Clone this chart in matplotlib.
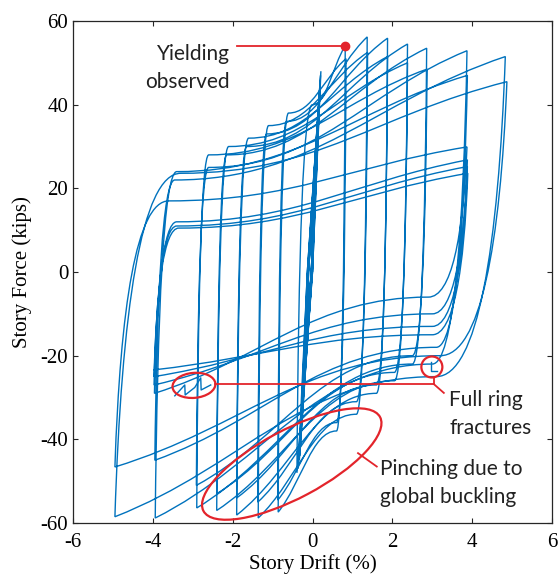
import matplotlib
matplotlib.use("Agg")
import matplotlib.pyplot as plt
from matplotlib.path import Path
from matplotlib.patches import PathPatch, Ellipse
from matplotlib.transforms import ScaledTranslation

# ---------------------------------------------------------------------
# Cyclic test record: story drift (%) and story force (kips)
# ---------------------------------------------------------------------
# small elastic cycles before yielding (peaks and zero-force crossings)
elastic_drift = [0.00, 0.05, -0.03, -0.12, -0.10, 0.06, -0.03, -0.13, -0.10, 0.10, -0.03,
                 -0.19, -0.10, 0.11, -0.03, -0.20, -0.11, 0.14, -0.02, -0.26, -0.11,
                 0.15, -0.02, -0.27, -0.12, 0.18, -0.01, -0.32, -0.12, 0.19, -0.01,
                 -0.33, -0.13, 0.20, 0.00, -0.36, -0.13, 0.21, 0.00, -0.39]
elastic_force = [0.0, 21.0, 0.0, -10.0, 0.0, 22.0, 0.0, -11.0, 0.0, 30.0, 0.0,
                 -22.0, 0.0, 31.0, 0.0, -23.0, 0.0, 37.0, 0.0, -34.0, 0.0,
                 38.0, 0.0, -35.0, 0.0, 44.0, 0.0, -44.0, 0.0, 45.0, 0.0,
                 -45.0, 0.0, 47.0, 0.0, -47.0, 0.0, 48.0, 0.0, -48.0]

# inelastic cycles: positive peaks
pos_peak_drift = [0.82, 0.84, 1.37, 1.38, 1.88, 1.88, 2.38, 2.38, 2.86, 2.87,
                  3.87, 3.88, 4.83, 4.87, 3.87, 3.88, 3.88, 3.89]
pos_peak_force = [54.1, 51.0, 56.2, 52.5, 55.9, 51.5, 54.5, 50.0, 53.5, 48.5,
                  52.9, 47.0, 51.5, 45.5, 29.9, 26.8, 25.2, 23.6]
# negative peaks
neg_peak_drift = [-0.86, -0.87, -1.36, -1.37, -1.90, -1.90, -2.40, -2.40, -2.90, -2.91,
                  -3.94, -3.95, -4.95, -4.95, -3.96, -3.97, -3.97, -3.98]
neg_peak_force = [-57.4, -54.5, -58.8, -55.0, -58.1, -54.0, -57.0, -53.0, -56.4, -51.0,
                  -58.8, -45.0, -58.5, -46.6, -29.0, -27.0, -25.0, -23.4]

# reloading toward each positive peak: knee drift and plateau force
pos_knee_drift = [0.00, -0.60, -0.65, -1.10, -1.15, -1.60, -1.65, -2.10, -2.15, -2.60,
                  -2.60, -3.40, -3.45, -3.30, -3.60, -3.40, -3.40, -3.35]
pos_plateau = [40.0, 38.0, 36.0, 35.0, 33.0, 32.0, 30.0, 30.0, 28.0, 28.0,
               25.0, 24.0, 22.0, 23.6, 17.0, 12.0, 11.0, 10.5]
# unloading toward each negative peak: knee drift and plateau force
neg_knee_drift = [0.60, 0.60, 1.10, 1.10, 1.60, 1.60, 2.05, 2.05, 2.50, 2.50,
                  3.00, 3.10, 3.10, 3.20, 2.90, 3.00, 3.00, 3.00]
neg_plateau = [-38.0, -36.0, -34.0, -31.0, -29.0, -27.0, -26.0, -24.0, -22.0, -20.0,
               -22.0, -18.0, -25.0, -20.0, -6.0, -10.0, -13.0, -15.0]

# local drops recorded as the rings fractured
jag_neg_drift = [-3.45, -3.20, -3.19, -2.95, -2.80, -2.79, -2.55]
jag_neg_force = [-29.6, -27.0, -29.4, -27.6, -25.3, -28.2, -27.0]
jag_pos_drift = [2.98, 2.98, 3.11]
jag_pos_force = [-21.6, -23.6, -23.6]

X_TICKS = [-6, -4, -2, 0, 2, 4, 6]
Y_TICKS = [-60, -40, -20, 0, 20, 40, 60]

BLUE = "#0072BD"
RED = "#E3242B"

plt.rcParams["axes.unicode_minus"] = False


def steep(verts, codes, a, b):
    """Stiff branch from a peak to the knee of the next plateau."""
    dx, df = b[0] - a[0], b[1] - a[1]
    verts += [(a[0] + 0.1 * dx, a[1] + 0.6 * df), (a[0] + 0.4 * dx, b[1]), b]
    codes += [Path.CURVE4] * 3


def harden(verts, codes, a, b):
    """Plateau followed by hardening up to the next peak."""
    L, df = b[0] - a[0], b[1] - a[1]
    verts += [(a[0] + 0.42 * L, a[1]), (b[0] - 0.40 * L, b[1] - 0.36 * df), b]
    codes += [Path.CURVE4] * 3


verts = [(elastic_drift[0], elastic_force[0])]
codes = [Path.MOVETO]
for x, f in zip(elastic_drift[1:], elastic_force[1:]):
    verts.append((x, f))
    codes.append(Path.LINETO)

prev = (elastic_drift[-1], elastic_force[-1])
for i in range(len(pos_peak_drift)):
    pk = (pos_peak_drift[i], pos_peak_force[i])
    kn = (pos_knee_drift[i], pos_plateau[i])
    steep(verts, codes, prev, kn)
    harden(verts, codes, kn, pk)
    nk = (neg_knee_drift[i], neg_plateau[i])
    nn = (neg_peak_drift[i], neg_peak_force[i])
    steep(verts, codes, pk, nk)
    harden(verts, codes, nk, nn)
    prev = nn

fig = plt.figure(figsize=(5.59, 5.79), dpi=100)
ax = fig.add_axes([0.1306, 0.0967, 0.8569, 0.867])

ax.add_patch(PathPatch(Path(verts, codes), facecolor="none", edgecolor=BLUE,
                       lw=1.0, zorder=2))
ax.plot(jag_neg_drift, jag_neg_force, color=BLUE, lw=1.0, zorder=2)
ax.plot(jag_pos_drift, jag_pos_force, color=BLUE, lw=1.0, zorder=2)

ax.set_xlim(-6, 6)
ax.set_ylim(-60, 60)
ax.set_xticks(X_TICKS)
ax.set_yticks(Y_TICKS)

serif = "Liberation Serif"
ax.tick_params(direction="in", length=3.3, width=0.8, color="#262626",
               top=True, right=True, labelsize=15)
ax.tick_params(axis="x", pad=7)
for lab in ax.get_xticklabels() + ax.get_yticklabels():
    lab.set_fontfamily(serif)
for s in ax.spines.values():
    s.set_linewidth(0.9)
    s.set_color("#262626")
ax.set_xlabel("Story Drift (%)", fontsize=15, family=serif, labelpad=2)
ax.set_ylabel("Story Force (kips)", fontsize=15, family=serif, labelpad=6)

# --- annotations ------------------------------------------------------
sans = "Lato"
fs = 15
ax.plot([-1.89, pos_peak_drift[0]], [pos_peak_force[0]] * 2, color=RED, lw=1.3, zorder=4)
ax.plot(pos_peak_drift[0], pos_peak_force[0], "o", color=RED, ms=6, zorder=5)
ax.text(-2.07, 50.8, "Yielding", ha="right", va="baseline", fontsize=fs, family=sans, color="#222222")
ax.text(-2.07, 44.1, "observed", ha="right", va="baseline", fontsize=fs, family=sans, color="#222222")


def ring(cx, cy, w_in, h_in, ang):
    tr = fig.dpi_scale_trans + ScaledTranslation(cx, cy, ax.transData)
    ax.add_patch(Ellipse((0, 0), w_in, h_in, angle=ang, transform=tr,
                         facecolor="none", edgecolor=RED, lw=1.6, zorder=4))


ring(-2.97, -27.1, 0.43, 0.25, 5)
ring(2.99, -22.7, 0.21, 0.21, 0)
ring(-0.52, -45.9, 2.0, 0.68, 28)

ax.plot([-2.44, 3.04], [-26.8, -26.8], color=RED, lw=1.3, zorder=4)
ax.plot([3.04, 3.04], [-26.8, -25.2], color=RED, lw=1.3, zorder=4)
ax.plot([3.04, 3.29], [-26.8, -28.9], color=RED, lw=1.3, zorder=4)
ax.plot([1.14, 1.61], [-43.3, -46.5], color=RED, lw=1.3, zorder=4)

ax.text(3.42, -32.0, "Full ring", ha="left", va="baseline", fontsize=fs, family=sans, color="#222222")
ax.text(3.42, -38.7, "fractures", ha="left", va="baseline", fontsize=fs, family=sans, color="#222222")
ax.text(1.70, -48.5, "Pinching due to", ha="left", va="baseline", fontsize=fs, family=sans, color="#222222")
ax.text(1.70, -55.3, "global buckling", ha="left", va="baseline", fontsize=fs, family=sans, color="#222222")

fig.savefig("out.png", dpi=100)
